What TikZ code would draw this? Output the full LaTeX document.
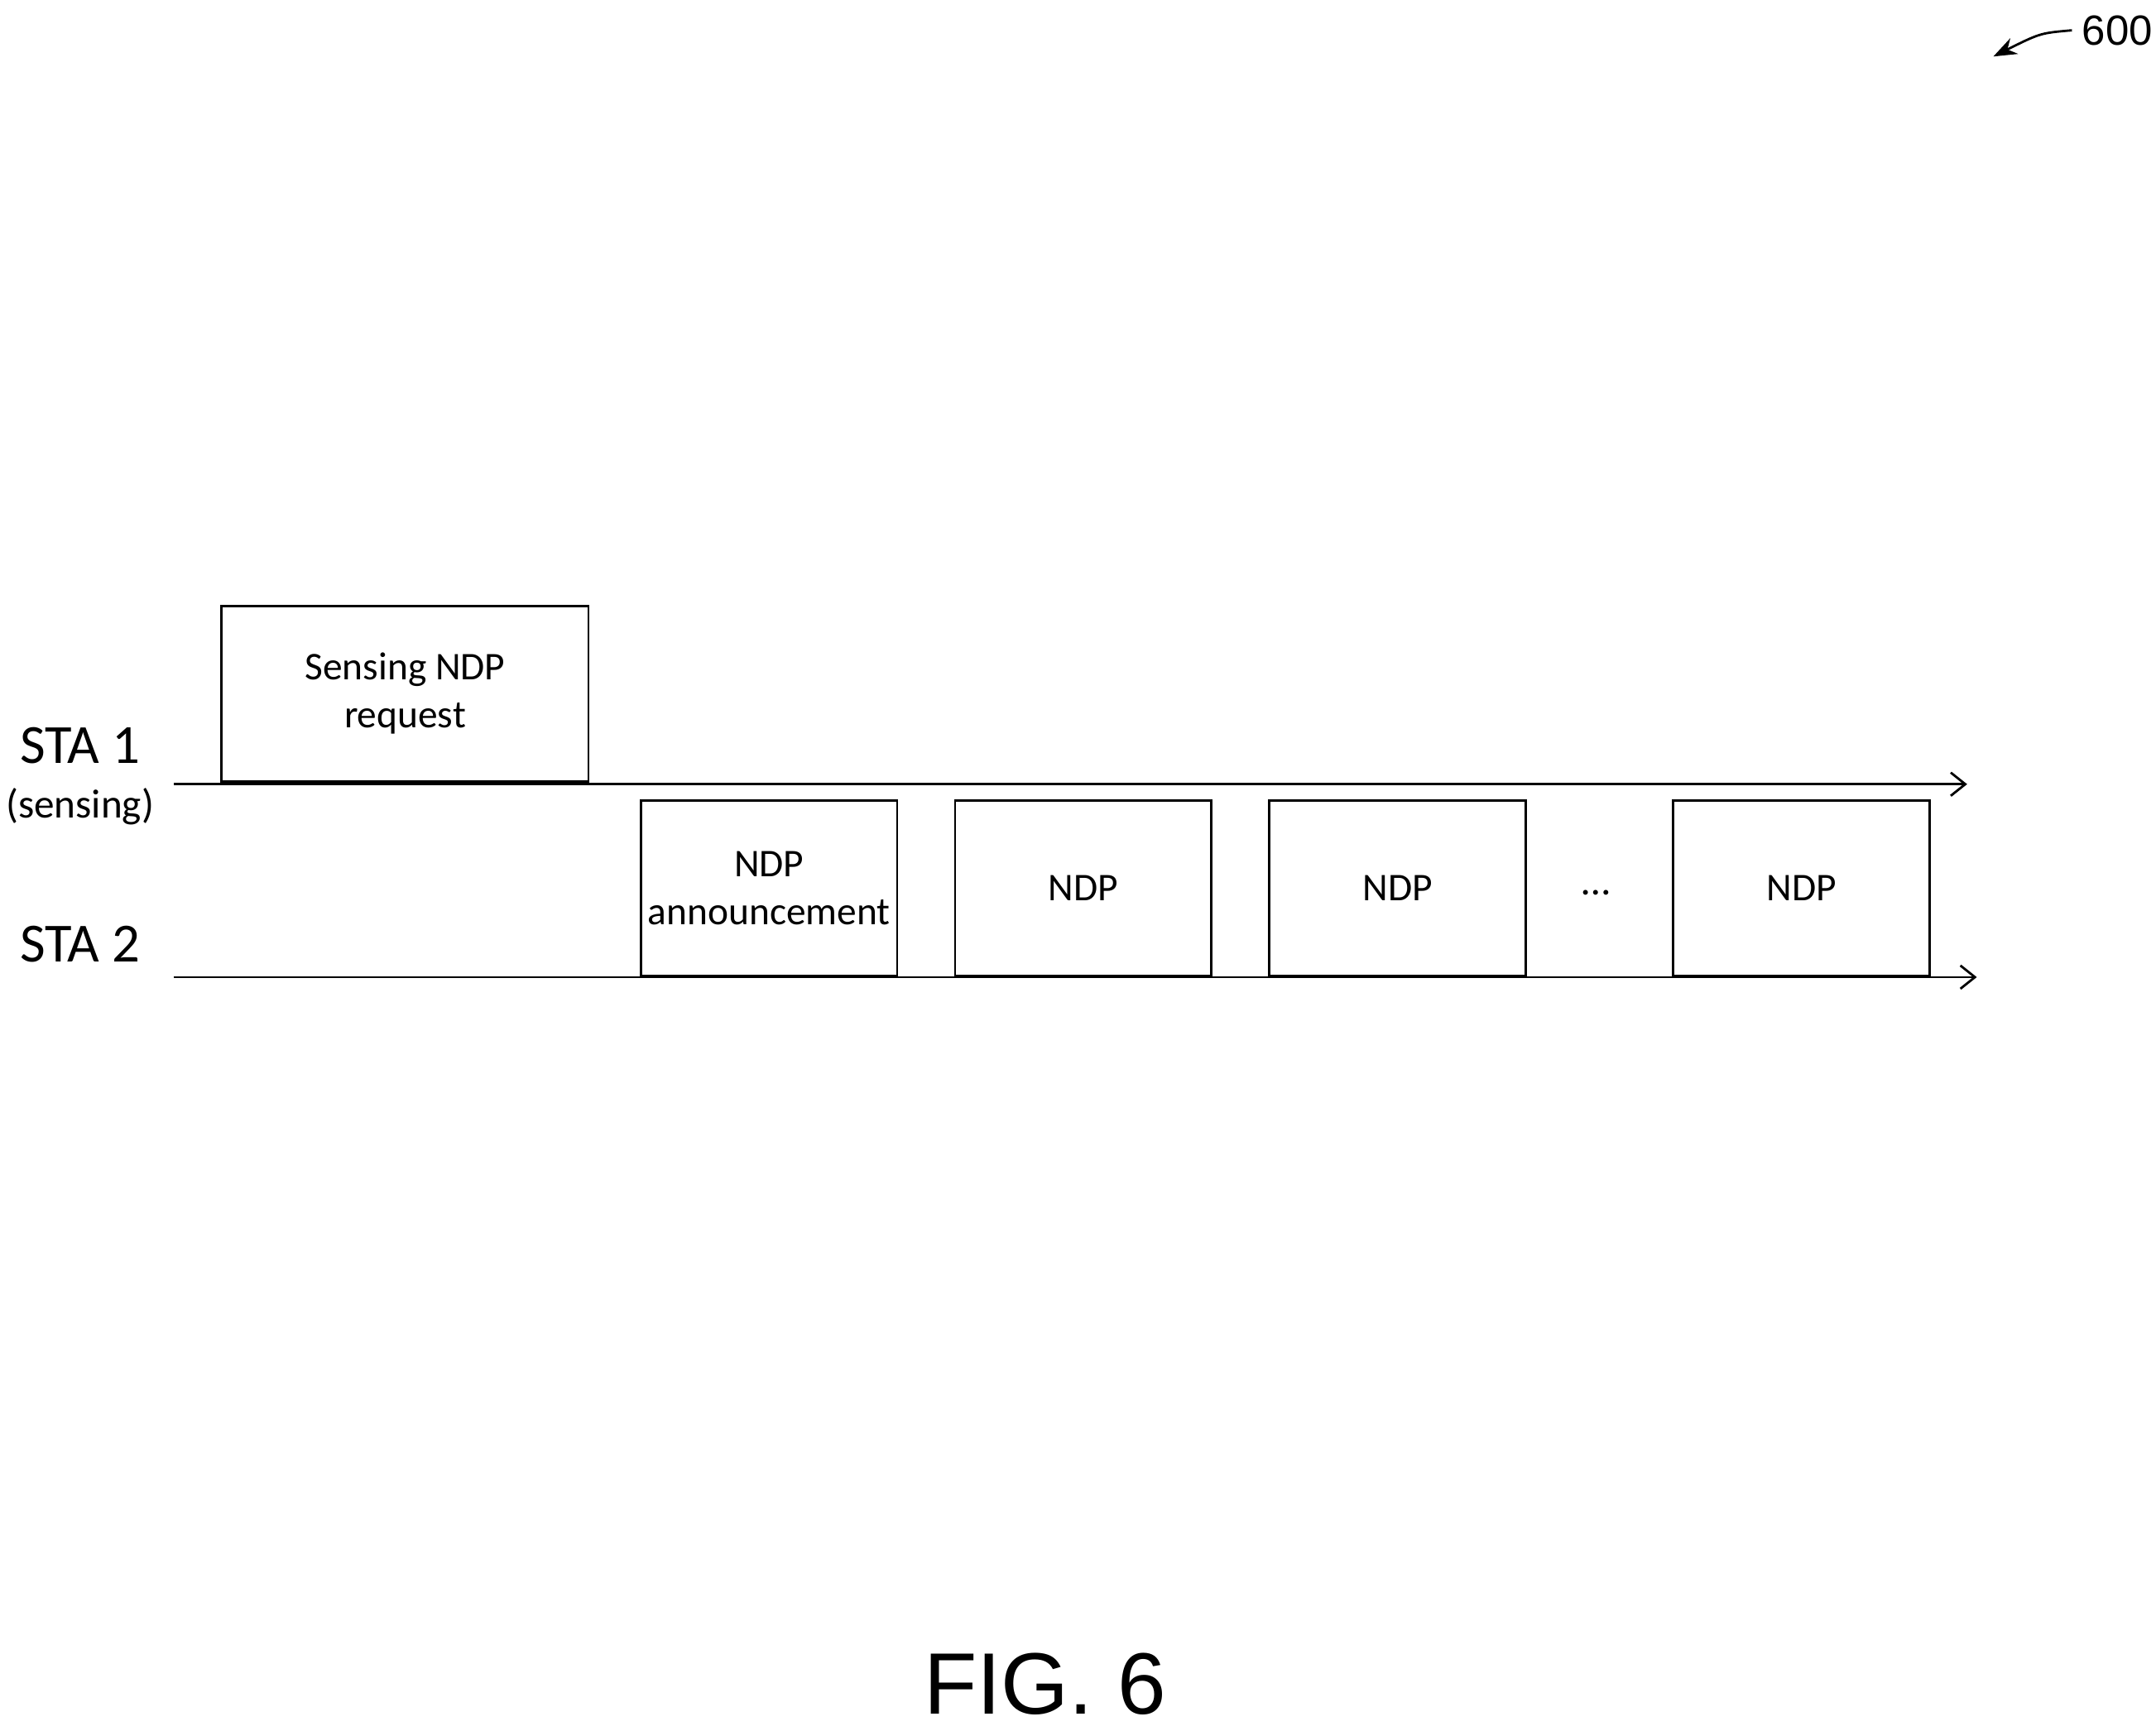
\documentclass[tikz,border=0pt]{standalone}
\usepackage{fontspec}
\setmainfont{Carlito}
\newfontfamily\arialfont{Liberation Sans}
\usetikzlibrary{arrows.meta}
\begin{document}
\begin{tikzpicture}[x=0.01666cm,y=-0.01666cm,
	frame/.style={draw,thick,minimum width=#1*0.01666cm,minimum height=127*0.01666cm,inner sep=0pt,align=center,font=\fontsize{13.5}{16.5}\selectfont},
	sta/.style={font=\fontsize{19}{22}\selectfont},
	timeline/.style={thick,-{Straight Barb[length=5pt,width=8pt]}}
	]
	\useasboundingbox (0,0) rectangle (1564,1256);
	% STA 1
	\node[frame=266,anchor=north west](req) at (160,439) {Sensing NDP\\request};
	\coordinate (s1) at (126,569);
	\coordinate (e1) at (1427,569);
	\draw[timeline] (s1) -- (e1);
	\node[sta](sta1) at (58,541) {STA 1};
	\node[font=\fontsize{14}{16}\selectfont](sens) at (58,585) {(sensing)};
	% STA 2
	\node[frame=186,anchor=north west](ann) at (464,580) {NDP\\announcement};
	\node[frame=186,anchor=north west](ndp1) at (692,580) {NDP};
	\node[frame=186,anchor=north west](ndp2) at (920,580) {NDP};
	\node[font=\fontsize{14}{16}\selectfont](dots) at (1158,648) {\dots};
	\node[frame=186,anchor=north west](ndp3) at (1213,580) {NDP};
	\coordinate (s2) at (126,709);
	\coordinate (e2) at (1434,709);
	\draw[timeline] (s2) -- (e2);
	\node[sta](sta2) at (58,685) {STA 2};
	% labels
	\node[font=\arialfont\fontsize{30}{34}\selectfont](fig) at (758,1222) {FIG. 6};
	\node[font=\arialfont\fontsize{14.5}{17}\selectfont,anchor=west](num) at (1503,22) {600};
	\coordinate (tip) at (1446,41);
	\draw[thick,-{Stealth[length=8pt,width=6pt]}] (num.west) .. controls (1480,24) .. (tip);
\end{tikzpicture}
\end{document}
